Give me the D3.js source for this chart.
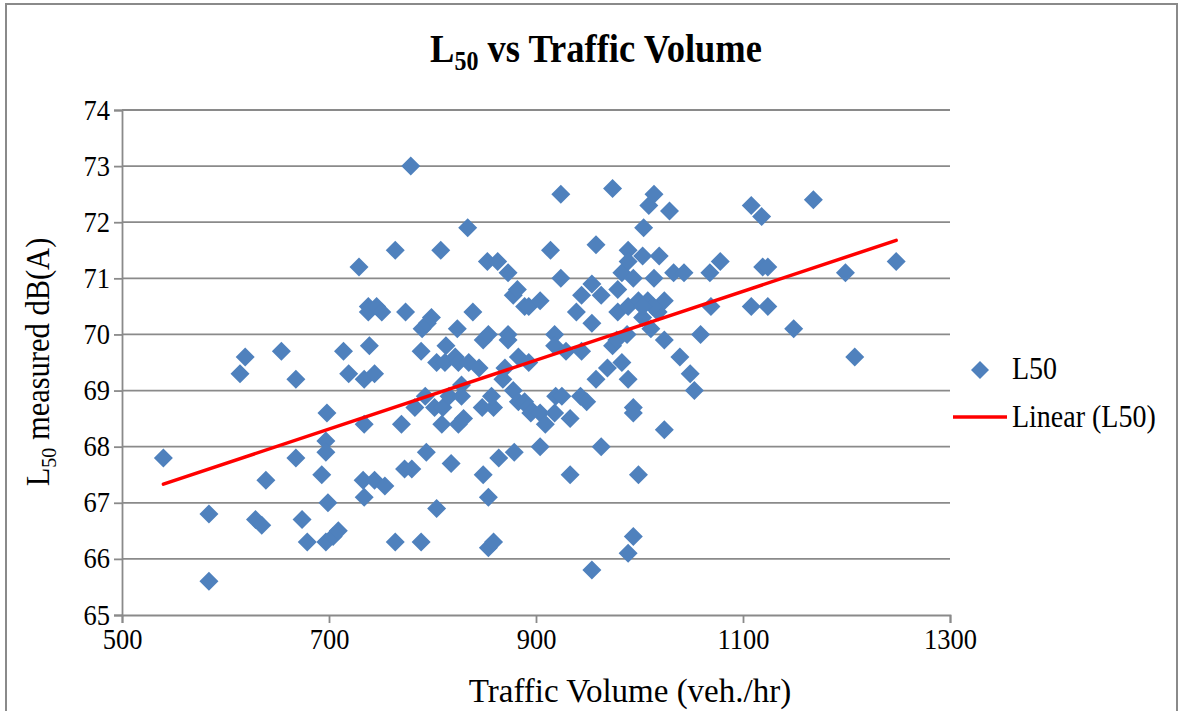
<!DOCTYPE html>
<html>
<head>
<meta charset="utf-8">
<script src="https://cdn.jsdelivr.net/npm/d3@7"></script>
<style>
  html, body { margin: 0; padding: 0; background: #fff; }
  svg { display: block; font-family: "Liberation Serif", "Times New Roman", serif; }
</style>
</head>
<body>
<svg id="chart" width="1180" height="711"></svg>
<script>
// Traffic volume (veh./hr) for each measurement
const volume = [
  540, 584, 584, 614, 619, 629, 635, 639, 654, 668, 668, 674, 679, 693, 698, 697, 697, 697, 699, 704,
  709, 714, 719, 729, 734, 733, 734, 734, 738, 738, 739, 746, 744, 744, 751, 754, 764, 764, 770, 774,
  773, 780, 779, 783, 789, 790, 789, 795, 794, 793, 799, 802, 804, 804, 808, 810, 809, 812, 813, 816,
  818, 822, 824, 825, 825, 830, 828, 828, 834, 835, 839, 845, 849, 848, 849, 853, 854, 854, 854, 859,
  859, 857, 863, 864, 868, 870, 879, 873, 873, 873, 878, 878, 883, 882, 883, 889, 889, 893, 893, 893,
  895, 904, 904, 904, 909, 914, 918, 918, 918, 919, 924, 924, 925, 929, 933, 933, 939, 944, 943, 944,
  949, 954, 954, 954, 958, 958, 963, 963, 969, 974, 974, 978, 979, 979, 983, 983, 989, 989, 989, 989,
  989, 988, 994, 994, 994, 994, 999, 999, 1003, 1004, 1003, 1009, 1011, 1014, 1014, 1018, 1019, 1024, 1024, 1024,
  1029, 1033, 1039, 1043, 1049, 1053, 1059, 1069, 1068, 1078, 1108, 1108, 1118, 1119, 1124, 1124, 1149, 1168, 1199, 1208,
  1248, 1008, 1013, 1003
];
// Measured L50 level, dB(A), same order as volume
const l50 = [
  67.8, 66.8, 65.6, 69.3, 69.6, 66.7, 66.6, 67.4, 69.7, 69.2, 67.8, 66.7, 66.3, 67.5, 68.6, 68.1, 67.9, 66.3, 67.0, 66.4,
  66.5, 69.7, 69.3, 71.2, 68.4, 67.4, 67.1, 69.2, 70.5, 70.4, 69.8, 70.5, 69.3, 67.4, 70.4, 67.3, 66.3, 71.5, 68.4, 70.4,
  67.6, 67.6, 73.0, 68.7, 69.7, 70.1, 66.3, 70.2, 67.9, 68.9, 70.3, 68.7, 66.9, 69.5, 71.5, 68.7, 68.4, 69.5, 69.8, 68.9,
  67.7, 69.6, 70.1, 68.4, 69.5, 68.5, 69.1, 68.9, 71.9, 69.5, 70.4, 69.4, 67.5, 68.7, 69.9, 71.3, 70.0, 67.1, 66.2, 66.3,
  68.7, 68.9, 71.3, 67.8, 69.2, 69.4, 67.9, 71.1, 70.0, 69.9, 69.0, 70.7, 68.8, 70.8, 69.6, 70.5, 68.8, 68.7, 70.5, 69.5,
  68.6, 68.6, 70.6, 68.0, 68.4, 71.5, 70.0, 69.8, 68.6, 68.9, 72.5, 71.0, 68.9, 69.7, 68.5, 67.5, 70.4, 69.7, 68.9, 70.7,
  68.8, 70.9, 70.2, 65.8, 69.2, 71.6, 70.7, 68.0, 69.4, 69.8, 72.6, 69.9, 70.4, 70.8, 71.1, 69.5, 70.5, 71.5, 71.3, 66.1,
  69.2, 70.0, 68.7, 68.6, 71.0, 66.4, 70.6, 67.5, 70.3, 71.9, 71.4, 72.3, 70.1, 72.5, 71.0, 70.4, 71.4, 70.6, 69.9, 68.3,
  72.2, 71.1, 69.6, 71.1, 69.3, 69.0, 70.0, 70.5, 71.1, 71.3, 72.3, 70.5, 72.1, 71.2, 71.2, 70.5, 70.1, 72.4, 71.1, 69.6,
  71.3, 70.6, 70.5, 70.5
];

const xTicks = [500, 700, 900, 1100, 1300];
const yTicks = [65, 66, 67, 68, 69, 70, 71, 72, 73, 74];
const seriesName = "L50";
const trendName = "Linear (L50)";

const points = volume.map((v, i) => ({ x: v, y: l50[i] }));

const svg = d3.select("#chart");
const W = 1180, H = 711;
const plot = { left: 122, right: 950, top: 110, bottom: 615 };
const gridColor = "#8a8a8a";
const markColor = "#4F81BD";
const stretch = 1.1;   // text is set slightly tall and narrow

// chart frame
svg.append("rect")
  .attr("x", 6).attr("y", 4)
  .attr("width", W - 9).attr("height", H + 10)
  .attr("fill", "#fff").attr("stroke", "#8a8a8a").attr("stroke-width", 2);

const x = d3.scaleLinear().domain([500, 1300]).range([plot.left, plot.right]);
const y = d3.scaleLinear().domain([65, 74]).range([plot.bottom, plot.top]);

// draws a text whose glyphs are stretched vertically about its baseline
function label(parent, tx, ty, size, anchor, rot, sy = stretch) {
  return parent.append("text")
    .attr("transform", `translate(${tx},${ty})${rot ? ` rotate(${rot})` : ""} scale(1,${sy})`)
    .attr("text-anchor", anchor)
    .attr("font-size", size).attr("fill", "#000");
}

// horizontal gridlines
svg.append("g")
  .selectAll("line")
  .data(yTicks.filter(t => t !== 65))
  .join("line")
  .attr("x1", plot.left).attr("x2", plot.right)
  .attr("y1", d => y(d)).attr("y2", d => y(d))
  .attr("stroke", gridColor).attr("stroke-width", 1.8);

// y axis
const yAxis = svg.append("g")
  .attr("transform", `translate(${plot.left},0)`)
  .call(d3.axisLeft(y).tickValues(yTicks).tickFormat(d3.format("d")).tickSize(8).tickPadding(4));
yAxis.select(".domain").attr("stroke", gridColor).attr("stroke-width", 1.8);
yAxis.selectAll(".tick line").attr("stroke", gridColor).attr("stroke-width", 1.8);
yAxis.selectAll(".tick text")
  .attr("font-family", "Liberation Serif, Times New Roman, serif")
  .attr("font-size", 26.5).attr("fill", "#000")
  .attr("dy", null).attr("y", 0)
  .attr("transform", `translate(0,${9}) scale(1,${stretch})`);

// x axis
const xAxis = svg.append("g")
  .attr("transform", `translate(0,${plot.bottom})`)
  .call(d3.axisBottom(x).tickValues(xTicks).tickFormat(d3.format("d")).tickSize(8).tickPadding(4));
xAxis.select(".domain").attr("stroke", gridColor).attr("stroke-width", 1.8);
xAxis.selectAll(".tick line").attr("stroke", gridColor).attr("stroke-width", 1.8);
xAxis.selectAll(".tick text")
  .attr("font-family", "Liberation Serif, Times New Roman, serif")
  .attr("font-size", 26.5).attr("fill", "#000")
  .attr("dy", null).attr("y", 0)
  .attr("transform", `translate(0,${34}) scale(1,${stretch})`);

// diamond marker
const diamond = r => `M0,${-r}L${r},0L0,${r}L${-r},0Z`;

svg.append("g")
  .selectAll("path")
  .data(points)
  .join("path")
  .attr("d", diamond(9.5))
  .attr("transform", d => `translate(${x(d.x)},${y(d.y)})`)
  .attr("fill", markColor);

// least-squares trendline
const mx = d3.mean(points, d => d.x), my = d3.mean(points, d => d.y);
const slope = d3.sum(points, d => (d.x - mx) * (d.y - my)) / d3.sum(points, d => (d.x - mx) ** 2);
const icpt = my - slope * mx;
const [xmin, xmax] = d3.extent(points, d => d.x);
svg.append("line")
  .attr("x1", x(xmin)).attr("y1", y(icpt + slope * xmin))
  .attr("x2", x(xmax)).attr("y2", y(icpt + slope * xmax))
  .attr("stroke", "#FF0000").attr("stroke-width", 3.5).attr("stroke-linecap", "round");

// title
const title = label(svg, 596, 62, 36.5, "middle").attr("font-weight", "bold");
title.append("tspan").text("L");
title.append("tspan").attr("font-size", 24).attr("dy", 7).text("50");
title.append("tspan").attr("dy", -7).text(" vs Traffic Volume");

// axis titles
label(svg, 630, 702, 33, "middle", 0, 1.0).text("Traffic Volume (veh./hr)");

const yTitle = label(svg, 49, 362, 30.5, "middle", -90);
yTitle.append("tspan").text("L");
yTitle.append("tspan").attr("font-size", 20).attr("dy", 6).text("50");
yTitle.append("tspan").attr("dy", -6).text(" measured dB(A)");

// legend
const lg = svg.append("g");
lg.append("path").attr("d", diamond(9))
  .attr("transform", "translate(980,370)").attr("fill", markColor);
label(lg, 1012, 379, 28, "start").text(seriesName);
lg.append("line").attr("x1", 953).attr("x2", 1007).attr("y1", 417).attr("y2", 417)
  .attr("stroke", "#FF0000").attr("stroke-width", 3.5);
label(lg, 1012, 427, 28, "start").text(trendName);
</script>
</body>
</html>
